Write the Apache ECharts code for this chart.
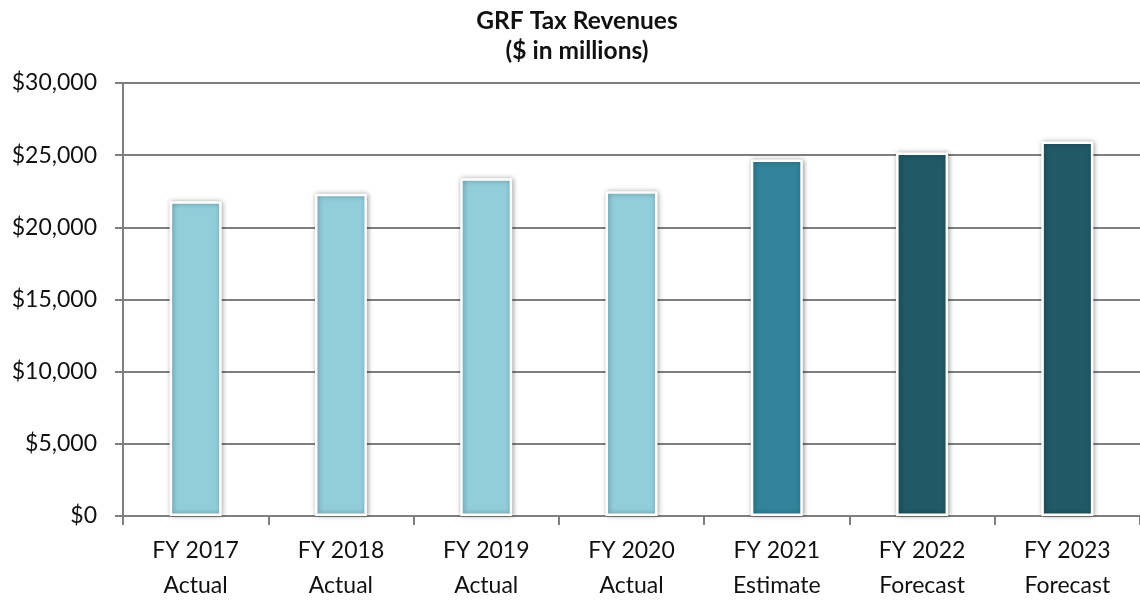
<!DOCTYPE html>
<html><head><meta charset="utf-8">
<script src="https://cdn.jsdelivr.net/npm/echarts@6/dist/echarts.min.js"></script>
<style>html,body{margin:0;padding:0;background:#fff;overflow:hidden}#c{width:1140px;height:603px}</style>
</head><body><div id="c"></div>
<script>
const categories = ['FY 2017\nActual','FY 2018\nActual','FY 2019\nActual','FY 2020\nActual','FY 2021\nEstimate','FY 2022\nForecast','FY 2023\nForecast'];
const values = [21800, 22330, 23400, 22500, 24700, 25180, 25950];
const barColors = ['#92CDDC','#92CDDC','#92CDDC','#92CDDC','#31849B','#215968','#215968'];

const chart = echarts.init(document.getElementById('c'));
const font = 'Lato, "Open Sans", sans-serif';
chart.setOption({
  animation: false,
  title: {
    text: 'GRF Tax Revenues\n($ in millions)',
    left: 572, top: 1, textAlign: 'center',
    textStyle: {fontFamily: font, fontSize: 24.5, fontWeight: 'bold', color: '#111', lineHeight: 30}
  },
  grid: {left: 123, top: 83, width: 1026, height: 438, containLabel: false},
  xAxis: {
    type: 'category', data: categories,
    axisLine: {lineStyle: {color: '#7f7f7f', width: 2}},
    axisTick: {show: true, length: 9, lineStyle: {color: '#7f7f7f', width: 2}},
    axisLabel: {fontFamily: font, fontSize: 23, color: '#111', lineHeight: 35, margin: 17}
  },
  yAxis: {
    type: 'value', min: 0, max: 30000, interval: 5000,
    axisLine: {show: true, lineStyle: {color: '#7f7f7f', width: 2}},
    axisTick: {show: true, length: 8, lineStyle: {color: '#7f7f7f', width: 2}},
    splitLine: {lineStyle: {color: '#7f7f7f', width: 2}},
    axisLabel: {fontFamily: font, fontSize: 23, color: '#111', margin: 26,
      formatter: v => '$' + v.toLocaleString('en-US')}
  },
  series: [{
    type: 'bar', barWidth: 52,
    data: values.map((v, i) => ({value: v, itemStyle: {color: barColors[i]}})),
    itemStyle: {borderColor: '#fff', borderWidth: 2.5, shadowBlur: 5, shadowColor: 'rgba(0,0,0,0.35)', shadowOffsetX: 1}
  }]
});
</script></body></html>
